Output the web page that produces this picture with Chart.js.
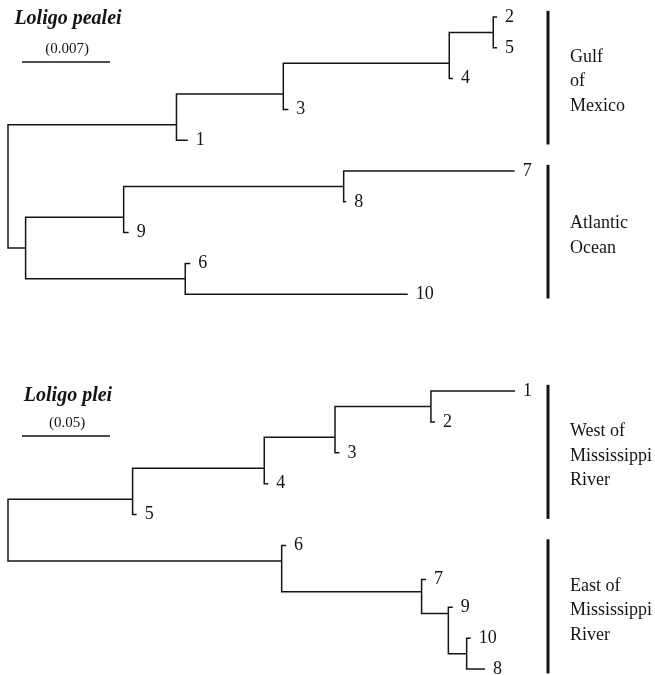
<!DOCTYPE html>
<html>
<head>
<meta charset="utf-8">
<script src="https://cdn.jsdelivr.net/npm/chart.js@4.4.1/dist/chart.umd.min.js"></script>
<style>
    html, body { margin: 0; padding: 0; background: #fff; }
    #page { position: relative; width: 655px; height: 675px; overflow: hidden; }
    canvas { position: absolute; left: 0; }
</style>
</head>
<body>
<div id="page">
    <canvas id="pealeiTree" width="655" height="330" style="top:0px"></canvas>
    <canvas id="pleiTree" width="655" height="345" style="top:330px"></canvas>
</div>
<script>
// Loligo pealei: node names, parents, distance from root, leaf row
const pealeiNodes = ["root", "a", "c", "d", "e", "2", "5", "4", "3", "1", "b", "f", "g", "7", "8", "9", "h", "6", "10"];
const pealeiParents = [null, "root", "a", "c", "d", "e", "e", "d", "c", "a", "root", "b", "f", "g", "g", "f", "b", "h", "h"];
const pealeiDepth = [0, 0.0134, 0.0219, 0.0351, 0.0386, 0.0389, 0.0389, 0.0354, 0.0223, 0.0143, 0.0014, 0.0092, 0.0267, 0.0403, 0.0269, 0.0096, 0.0141, 0.0145, 0.0318];
const pealeiRow = [5.5, 3.5, 2.5, 1.5, 0.5, 0, 1, 2, 3, 4, 7.5, 6.5, 5.5, 5, 6, 7, 8.5, 8, 9];
const pealeiGroupLabels = [["Gulf", "of", "Mexico"], ["Atlantic", "Ocean"]];
const pealeiGroupRows = [[0, 4], [5, 9]];
const pealeiScale = 0.007;

// Loligo plei
const pleiNodes = ["root", "n5", "n4", "n3", "n2", "1", "2", "3", "4", "5", "m", "6", "m2", "7", "m3", "9", "m4", "10", "8"];
const pleiParents = [null, "root", "n5", "n4", "n3", "n2", "n2", "n3", "n4", "n5", "root", "m", "m", "m2", "m2", "m3", "m3", "m4", "m4"];
const pleiDepth = [0, 0.0708, 0.1456, 0.1858, 0.2403, 0.2881, 0.2426, 0.1883, 0.1479, 0.0731, 0.1555, 0.1580, 0.2350, 0.2375, 0.2502, 0.2527, 0.2606, 0.2629, 0.2710];
const pleiRow = [4.5, 3.5, 2.5, 1.5, 0.5, 0, 1, 2, 3, 4, 5.5, 5, 6.5, 6.1, 7.2, 7, 8.5, 8, 9];
const pleiGroupLabels = [["West of", "Mississippi", "River"], ["East of", "Mississippi", "River"]];
const pleiGroupRows = [[0, 4], [5, 9]];
const pleiScale = 0.05;

const serif = '"Liberation Serif", "Times New Roman", serif';
const ink = "#141414";

const buildTree = (canvasId, tree, layout) => {
    const canvas = document.getElementById(canvasId);
    const width = canvas.width;
    const height = canvas.height;

    const datasets = [];
    tree.nodes.forEach((name, i) => {
        const parent = tree.parents[i];
        if (parent === null) {
            return;
        }
        const j = tree.nodes.indexOf(parent);
        datasets.push({
            data: [
                { x: tree.depth[j], y: tree.row[j] },
                { x: tree.depth[j], y: tree.row[i] },
                { x: tree.depth[i], y: tree.row[i] },
            ],
            showLine: true,
            borderColor: ink,
            borderWidth: 1.5,
            pointRadius: 0,
            tension: 0,
            borderJoinStyle: "miter",
        });
    });

    const unitsPerPx = tree.scaleValue / layout.scalePx;

    const annotate = {
        id: "annotate",
        afterDatasetsDraw: (chart) => {
            const ctx = chart.ctx;
            const xs = chart.scales.x;
            const ys = chart.scales.y;
            ctx.save();
            ctx.fillStyle = ink;
            ctx.strokeStyle = ink;

            // title and scale bar
            ctx.textAlign = "center";
            ctx.textBaseline = "alphabetic";
            ctx.font = `bold italic 20px ${serif}`;
            ctx.fillText(tree.title, 68, layout.titleY);
            ctx.font = `15px ${serif}`;
            ctx.fillText(`(${tree.scaleValue})`, 67, layout.scaleLabelY);
            const barLen = xs.getPixelForValue(tree.scaleValue) - xs.getPixelForValue(0);
            ctx.lineWidth = 1.5;
            ctx.beginPath();
            ctx.moveTo(22, layout.scaleBarY);
            ctx.lineTo(22 + barLen, layout.scaleBarY);
            ctx.stroke();

            // leaf numbers
            ctx.textAlign = "left";
            ctx.textBaseline = "middle";
            ctx.font = `18px ${serif}`;
            tree.nodes.forEach((name, i) => {
                if (tree.parents.includes(name)) {
                    return;
                }
                ctx.fillText(name, xs.getPixelForValue(tree.depth[i]) + 8, ys.getPixelForValue(tree.row[i]));
            });

            // region bars and labels
            ctx.font = `18px ${serif}`;
            ctx.textBaseline = "alphabetic";
            tree.groupRows.forEach(([r0, r1], g) => {
                ctx.lineWidth = 3;
                ctx.beginPath();
                ctx.moveTo(548, ys.getPixelForValue(r0 - 0.2));
                ctx.lineTo(548, ys.getPixelForValue(r1 + 0.14));
                ctx.stroke();

                const lines = tree.groupLabels[g];
                const mid = ys.getPixelForValue((r0 + r1) / 2 + 0.25);
                lines.forEach((line, k) => {
                    ctx.fillText(line, 570, mid + (k - (lines.length - 1) / 2) * 24.5);
                });
            });
            ctx.restore();
        },
    };

    return new Chart(canvas, {
        type: "scatter",
        data: { datasets },
        options: {
            responsive: false,
            devicePixelRatio: 1,
            animation: false,
            layout: { padding: 0 },
            plugins: {
                legend: { display: false },
                tooltip: { enabled: false },
            },
            scales: {
                x: {
                    type: "linear",
                    display: false,
                    min: -layout.rootPx * unitsPerPx,
                    max: (width - layout.rootPx) * unitsPerPx,
                },
                y: {
                    type: "linear",
                    display: false,
                    reverse: true,
                    min: -layout.firstRowPx / layout.rowPx,
                    max: (height - layout.firstRowPx) / layout.rowPx,
                },
            },
        },
        plugins: [annotate],
    });
};

buildTree("pealeiTree", {
    title: "Loligo pealei",
    nodes: pealeiNodes,
    parents: pealeiParents,
    depth: pealeiDepth,
    row: pealeiRow,
    groupLabels: pealeiGroupLabels,
    groupRows: pealeiGroupRows,
    scaleValue: pealeiScale,
}, { rootPx: 8, scalePx: 88, firstRowPx: 17, rowPx: 30.8, titleY: 24, scaleLabelY: 53, scaleBarY: 62 });

buildTree("pleiTree", {
    title: "Loligo plei",
    nodes: pleiNodes,
    parents: pleiParents,
    depth: pleiDepth,
    row: pleiRow,
    groupLabels: pleiGroupLabels,
    groupRows: pleiGroupRows,
    scaleValue: pleiScale,
}, { rootPx: 8, scalePx: 88, firstRowPx: 61, rowPx: 30.9, titleY: 71, scaleLabelY: 97, scaleBarY: 106 });
</script>
</body>
</html>
